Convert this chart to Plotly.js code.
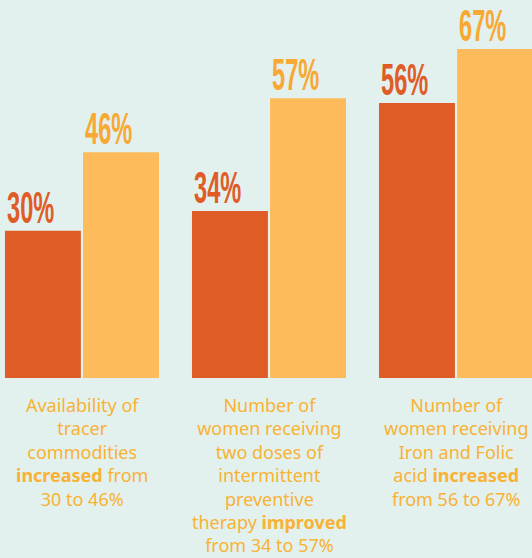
<!DOCTYPE html>
<html><head><meta charset="utf-8">
<script src="https://cdn.plot.ly/plotly-3.0.1.min.js"></script>
<style>html,body{margin:0;padding:0;background:#e2f1ee;}#chart{width:532px;height:558px;}</style>
</head><body><div id="chart"></div>
<script>
const categories = [
  "Availability of<br>tracer<br>commodities<br><b>increased</b> from<br>30 to 46%",
  "Number of<br>women receiving<br>two doses of<br>intermittent<br>preventive<br>therapy <b>improved</b><br>from 34 to 57%",
  "Number of<br>women receiving<br>Iron and Folic<br>acid <b>increased</b><br>from 56 to 67%"
];
const before = [30, 34, 56];
const after = [46, 57, 67];
const positions = [0, 1, 2];

const darkC = "#e05c27", lightC = "#fdbb5c", lightTxt = "#f8a833", catC = "#f9b233";
const W = 0.406, offD = -0.412, offL = 0.0055;
const numFont = "Liberation Sans, Arial, sans-serif";
const squeeze = 0.525;

const traces = [
  {type:"bar", x:positions, y:before, width:W, offset:offD, marker:{color:darkC}, hoverinfo:"none"},
  {type:"bar", x:positions, y:after, width:W, offset:offL, marker:{color:lightC}, hoverinfo:"none"}
];
const ann = [];
const numIdx = [];
positions.forEach((p,i)=>{
  numIdx.push(ann.length);
  ann.push({x:p+offD, y:before[i], xref:"x", yref:"y", xanchor:"left", yanchor:"bottom", yshift:-4, showarrow:false,
    text:"<b>"+before[i]+"%</b>", font:{family:numFont, size:45, color:darkC}});
  numIdx.push(ann.length);
  ann.push({x:p+offL, y:after[i], xref:"x", yref:"y", xanchor:"left", yanchor:"bottom", yshift:-4, showarrow:false,
    text:"<b>"+after[i]+"%</b>", font:{family:numFont, size:45, color:lightTxt}});
  ann.push({x:p, y:0, xref:"x", yref:"y", xanchor:"center", yanchor:"top", yshift:-13, showarrow:false, align:"center",
    text:categories[i], font:{family:"Noto Sans, sans-serif", size:18, color:catC}});
});
const layout = {
  width:532, height:558, margin:{l:0,r:0,t:0,b:180},
  paper_bgcolor:"#e2f1ee", plot_bgcolor:"#e2f1ee",
  showlegend:false,
  xaxis:{range:[-0.4385,2.406], showticklabels:false, showgrid:false, zeroline:false, ticks:""},
  yaxis:{range:[0,77], showticklabels:false, showgrid:false, zeroline:false},
  annotations:ann
};
Plotly.newPlot("chart", traces, layout, {displayModeBar:false, staticPlot:true}).then(gd=>{
  gd.querySelectorAll("g.annotation").forEach(g=>{
    const idx = +g.getAttribute("data-index");
    if (numIdx.indexOf(idx) < 0) return;
    const t = g.querySelector("text.annotation-text");
    const bb = t.getBBox();
    const x0 = bb.x;
    t.setAttribute("transform", "translate("+x0+",0) scale("+squeeze+",1) translate("+(-x0)+",0)");
    const r = g.querySelector("rect.bg");
    if (r) {
      const w = parseFloat(r.getAttribute("width"));
      if (!isNaN(w)) r.setAttribute("width", (w * squeeze).toFixed(1));
    }
  });
});
</script></body></html>
